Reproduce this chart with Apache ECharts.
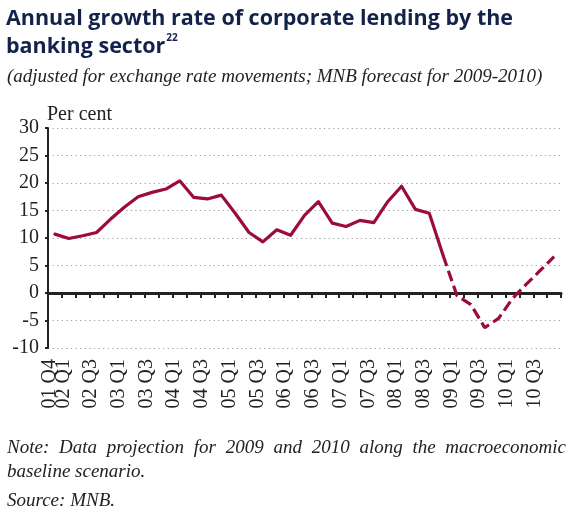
<!DOCTYPE html>
<html>
<head>
<meta charset="utf-8">
<script src="https://cdn.jsdelivr.net/npm/echarts@6/dist/echarts.min.js"></script>
<style>
  html, body { margin: 0; padding: 0; background: #fff; }
  #chart { width: 571px; height: 513px; }
</style>
</head>
<body>
<div id="chart"></div>
<script>
// Quarterly categories, 2001 Q4 – 2010 Q4
const quarters = [
  '01 Q4',
  '02 Q1', '02 Q2', '02 Q3', '02 Q4',
  '03 Q1', '03 Q2', '03 Q3', '03 Q4',
  '04 Q1', '04 Q2', '04 Q3', '04 Q4',
  '05 Q1', '05 Q2', '05 Q3', '05 Q4',
  '06 Q1', '06 Q2', '06 Q3', '06 Q4',
  '07 Q1', '07 Q2', '07 Q3', '07 Q4',
  '08 Q1', '08 Q2', '08 Q3', '08 Q4',
  '09 Q1', '09 Q2', '09 Q3', '09 Q4',
  '10 Q1', '10 Q2', '10 Q3', '10 Q4'
];

// Actual annual growth rate, 01 Q4 – 08 Q4 (per cent)
const actualGrowth = [
  10.7, 9.9, 10.4, 11.0, 13.4, 15.6, 17.5, 18.3, 18.9, 20.4,
  17.4, 17.1, 17.8, 14.5, 11.0, 9.3, 11.5, 10.5, 14.1, 16.6,
  12.7, 12.1, 13.2, 12.8, 16.6, 19.4, 15.2, 14.5, 6.8
];

// MNB forecast, starting from the last actual quarter 08 Q4 through 10 Q4
const forecastGrowth = [6.8, -0.5, -2.1, -6.3, -4.6, -1.0, 1.6, 4.1, 6.6];

const yTicks = { min: -10, max: 30, step: 5 };

const noteLine1 = 'Note: Data projection for 2009 and 2010 along the macroeconomic';
const noteLine2 = 'baseline scenario.';

const lineColor = '#9c0b3b';
const inkColor = '#222222';
const serif = '"Liberation Serif", "DejaVu Serif", serif';
const noteFontSize = 19;

const forecastStart = actualGrowth.length - 1;
const forecastData = quarters.map((q, i) =>
  i >= forecastStart ? forecastGrowth[i - forecastStart] : null);

// Justify the first note line across the page width by widening word gaps
function justifiedRich(line, targetWidth) {
  const ctx = document.createElement('canvas').getContext('2d');
  ctx.font = 'italic ' + noteFontSize + 'px "Liberation Serif"';
  const words = line.split(' ');
  const wordsWidth = words.reduce((s, w) => s + ctx.measureText(w).width, 0);
  const gap = (targetWidth - wordsWidth) / (words.length - 1);
  return { text: words.map(w => '{n|' + w + '}').join('{g| }'), gap: gap };
}
const note1 = justifiedRich(noteLine1, 559);

const chart = echarts.init(document.getElementById('chart'), null, { renderer: 'canvas' });

const noteStyle = { fontFamily: serif, fontStyle: 'italic', fontWeight: 'normal',
                    fontSize: noteFontSize, color: inkColor };

// Rotated quarter labels, sitting on the left edge of their quarter
function labelAxis(showIndex) {
  return {
    type: 'category',
    data: quarters,
    position: 'bottom',
    boundaryGap: true,
    axisLine: { show: false, onZero: false },
    axisTick: { show: false },
    splitLine: { show: false },
    axisLabel: {
      rotate: 90,
      margin: 11,
      interval: showIndex,
      fontFamily: serif,
      fontSize: 20,
      color: inkColor,
      verticalAlign: 'bottom',
      lineHeight: 11
    }
  };
}

chart.setOption({
  animation: false,
  backgroundColor: '#ffffff',
  title: [
    {
      text: '{t|Annual growth rate of corporate lending by the}\n{t|banking sector}{s|22}',
      left: 6,
      top: 5,
      padding: 0,
      textStyle: {
        rich: {
          t: { fontFamily: '"Open Sans", "Noto Sans", sans-serif', fontWeight: 'bold',
               fontSize: 21.5, color: '#13224a', lineHeight: 28 },
          s: { fontFamily: '"Open Sans", "Noto Sans", sans-serif', fontWeight: 'bold',
               fontSize: 10, color: '#13224a', verticalAlign: 'top', padding: [0, 0, 12, 1] }
        }
      }
    },
    {
      text: '(adjusted for exchange rate movements; MNB forecast for 2009-2010)',
      left: 7,
      top: 67,
      padding: 0,
      textStyle: noteStyle
    },
    {
      text: 'Per cent',
      left: 47,
      top: 105,
      padding: 0,
      textStyle: { fontFamily: serif, fontWeight: 'normal', fontSize: 20, color: inkColor }
    },
    {
      text: note1.text,
      left: 7,
      top: 436,
      padding: 0,
      textStyle: {
        rich: {
          n: Object.assign({ lineHeight: 24 }, noteStyle),
          g: Object.assign({ lineHeight: 24, width: note1.gap }, noteStyle)
        }
      }
    },
    {
      text: noteLine2,
      left: 7,
      top: 460,
      padding: 0,
      textStyle: Object.assign({ lineHeight: 24 }, noteStyle)
    },
    {
      text: 'Source: MNB.',
      left: 7,
      top: 491,
      padding: 0,
      textStyle: noteStyle
    }
  ],
  grid: { left: 48, right: 10, top: 128, bottom: 165, containLabel: false },
  xAxis: [
    // first quarter label on its own
    labelAxis((i) => i === 0),
    // every other quarter from 02 Q1
    labelAxis((i) => i % 2 === 1),
    {
      // zero line with quarter ticks
      type: 'category',
      data: quarters,
      position: 'bottom',
      boundaryGap: true,
      axisLine: { show: true, onZero: true, lineStyle: { color: inkColor, width: 3 } },
      axisTick: { show: true, inside: false, length: 5, interval: 0,
                  lineStyle: { color: inkColor, width: 2 } },
      axisLabel: { show: false },
      splitLine: { show: false }
    }
  ],
  yAxis: {
    type: 'value',
    min: yTicks.min,
    max: yTicks.max,
    interval: yTicks.step,
    axisLine: { show: true, onZero: false, lineStyle: { color: inkColor, width: 2 } },
    axisTick: { show: true, inside: false, length: 3, lineStyle: { color: inkColor, width: 2 } },
    axisLabel: { fontFamily: serif, fontSize: 20, color: inkColor, margin: 9 },
    splitLine: { show: true, lineStyle: { color: '#9a9a9a', width: 1.2, type: [1.2, 3.4] } }
  },
  series: [
    {
      name: 'Actual',
      type: 'line',
      xAxisIndex: 0,
      data: actualGrowth,
      showSymbol: false,
      symbol: 'none',
      lineStyle: { color: lineColor, width: 3.2, cap: 'round', join: 'round' },
      z: 3
    },
    {
      name: 'Forecast',
      type: 'line',
      xAxisIndex: 0,
      data: forecastData,
      showSymbol: false,
      symbol: 'none',
      connectNulls: false,
      lineStyle: { color: lineColor, width: 3.2, type: [11, 5] },
      z: 3
    }
  ]
});
</script>
</body>
</html>
